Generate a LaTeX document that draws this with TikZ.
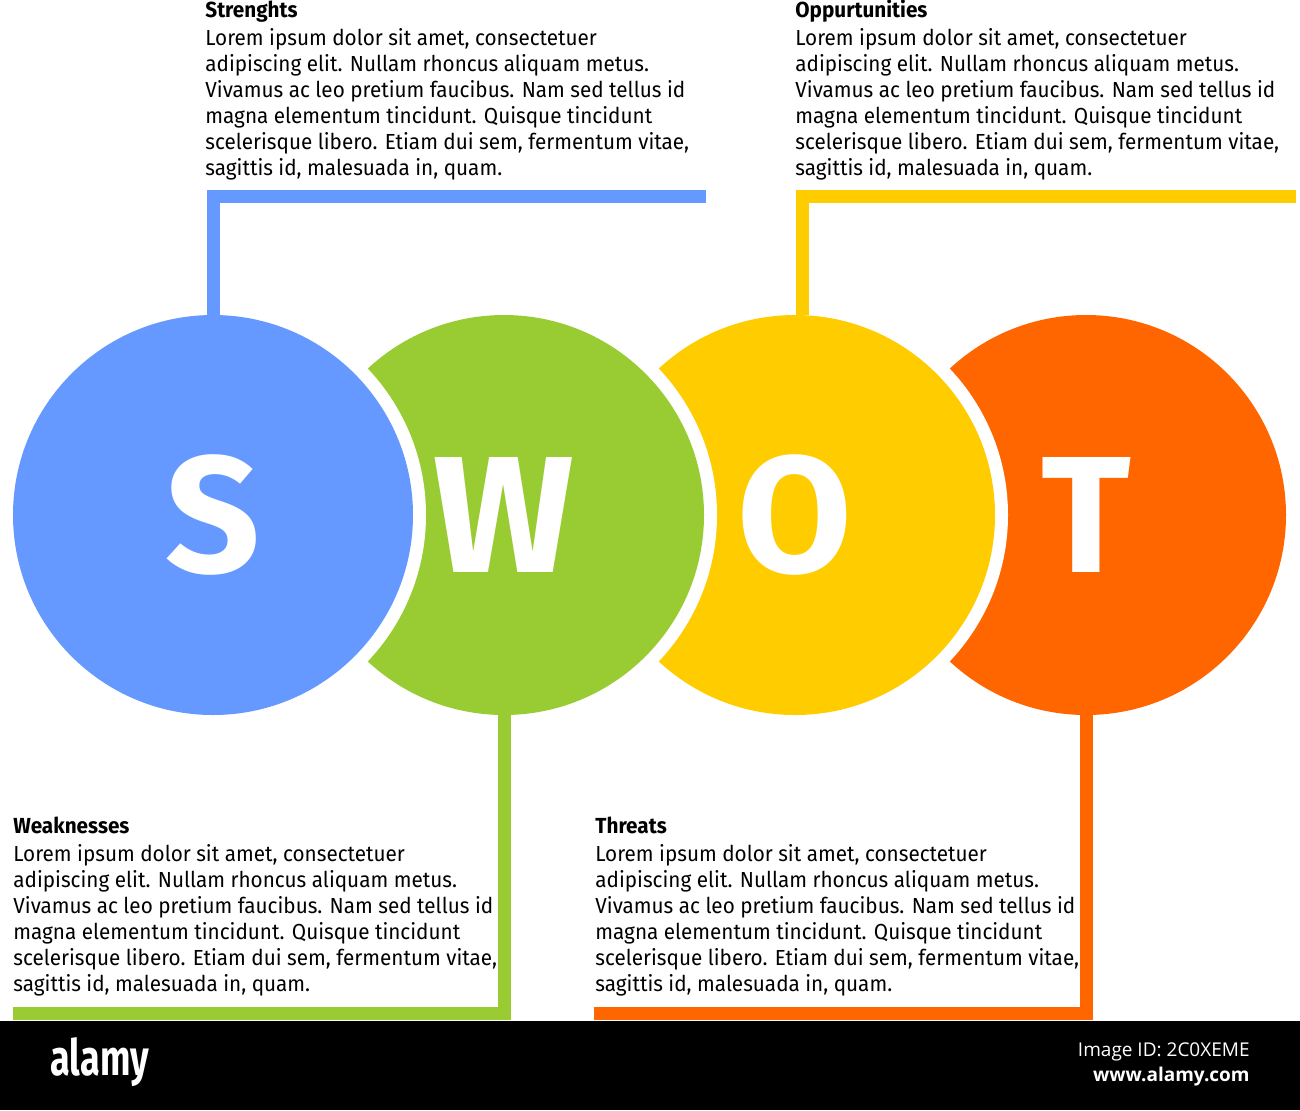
\documentclass[tikz,border=0pt]{standalone}
\usepackage{fontspec}
\setmainfont[FakeStretch=0.95]{Fira Sans}
\newfontfamily\letterfont{Fira Sans}
\newfontfamily\idfont{Open Sans}
\newfontfamily\logofont[FakeStretch=0.72]{Fira Sans}
\definecolor{swotblue}{HTML}{6699FF}
\definecolor{swotgreen}{HTML}{99CC33}
\definecolor{swotyellow}{HTML}{FFCC00}
\definecolor{swotorange}{HTML}{FF6600}
\newcommand{\loremtext}{Lorem ipsum dolor sit amet, consectetuer\\ adipiscing elit. Nullam rhoncus aliquam metus.\\ Vivamus ac leo pretium faucibus. Nam sed tellus id\\ magna elementum tincidunt. Quisque tincidunt\\ scelerisque libero. Etiam dui sem, fermentum vitae,\\ sagittis id, malesuada in, quam.}
\newcommand{\heading}[1]{\strut\textbf{#1}\\[1pt]}
\begin{document}
\begin{tikzpicture}[x = 0.5pt, y = -0.5pt, line join = miter,
	kreis/.style = {circle, inner sep = 0pt, outer sep = 0pt, minimum size = 200pt, text = white, font = \letterfont\bfseries\fontsize{83}{83}\selectfont, preaction = {draw = white, line width = 13pt}},
	balken/.style = {line width = 6.5pt},
	block/.style = {anchor = north west, inner sep = 0pt, align = left, font = \fontsize{10.9}{13}\selectfont}]
	\useasboundingbox (0,0) rectangle (1300,1110);
	% Kreise
	\node [kreis, fill = swotorange] (T) at (1086,515) {T};
	\node [kreis, fill = swotyellow] (O) at (795,515) {O};
	\node [kreis, fill = swotgreen] (W) at (504,515) {W};
	\node [kreis, fill = swotblue] (S) at (213,515) {S};
	% Verbindungen
	\coordinate (Send) at (706,196.5);
	\coordinate (Oend) at (1296,196.5);
	\coordinate (Wend) at (13,1013.5);
	\coordinate (Tend) at (594,1013.5);
	\draw [balken, swotblue] (S.north) |- (Send);
	\draw [balken, swotyellow] ([xshift = 3.5pt]O.north) |- (Oend);
	\draw [balken, swotgreen] (W.south) |- (Wend);
	\draw [balken, swotorange] (T.south) |- (Tend);
	% Texte
	\node [block] (Stxt) at (205,-1) {\heading{Strenghts}\loremtext};
	\node [block] (Otxt) at (795,-1) {\heading{Oppurtunities}\loremtext};
	\node [block] (Wtxt) at (13,815) {\heading{Weaknesses}\loremtext};
	\node [block] (Ttxt) at (595,815) {\heading{Threats}\loremtext};
	% Leiste unten
	\fill [black] (0,1021) rectangle (1300,1110);
	\node [anchor = west, inner sep = 0pt, text = white, font = \logofont\bfseries\fontsize{25}{25}\selectfont] (logo) at (50,1062) {alamy};
	\node [anchor = east, inner sep = 0pt, text = white, font = \idfont\fontsize{9.5}{10}\selectfont] (bildid) at (1250,1052) {Image ID: 2C0XEME};
	\node [anchor = east, inner sep = 0pt, text = white, font = \idfont\bfseries\fontsize{9.5}{10}\selectfont] (web) at (1250,1077) {www.alamy.com};
\end{tikzpicture}
\end{document}
